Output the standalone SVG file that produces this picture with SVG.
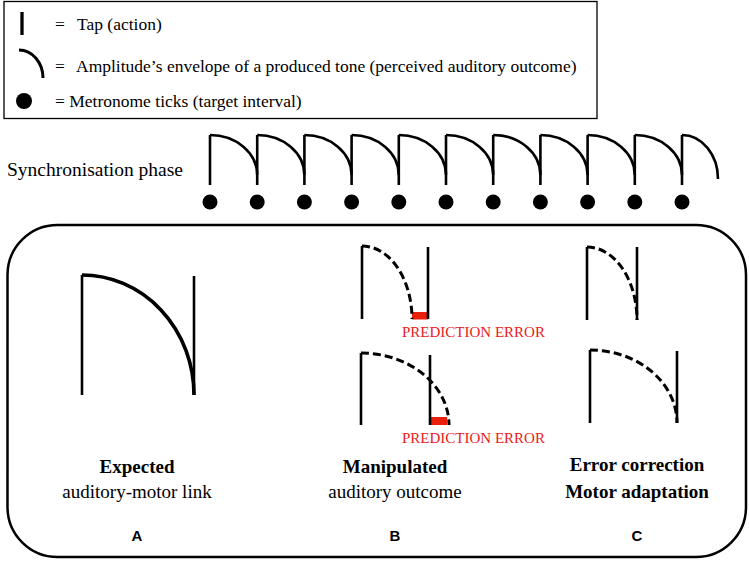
<svg xmlns="http://www.w3.org/2000/svg" width="749" height="561" viewBox="0 0 749 561">
<style>
.serif{font-family:"Liberation Serif","Times New Roman",serif;fill:#000}
.leg{font-size:17.5px}
.lbl{font-size:19px;text-anchor:middle}
.b{font-weight:bold}
.abc{font-family:"Liberation Sans",Arial,sans-serif;font-weight:bold;font-size:15px;text-anchor:middle}
.red{font-family:"Liberation Serif","Times New Roman",serif;font-size:15px;fill:#e8201a}
.ln{stroke:#000;stroke-width:2.6;fill:none}
.env{stroke:#000;stroke-width:2.6;fill:none}
.dash{stroke:#000;stroke-width:3;fill:none;stroke-dasharray:8 4}
.err{fill:#e8200c}
</style>
<rect width="749" height="561" fill="#fff"/>

<g id="legend">
<rect x="4" y="1.5" width="593" height="117" fill="none" stroke="#000" stroke-width="1.3"/>
<line x1="22" y1="12" x2="22" y2="35" stroke="#000" stroke-width="3.3"/>
<path d="M19 50 A24 28 0 0 1 43 78" stroke="#000" stroke-width="3" fill="none"/>
<circle cx="24" cy="101" r="8" fill="#000"/>
<text class="serif leg" x="55" y="30">=</text>
<text class="serif leg" x="77" y="30">Tap (action)</text>
<text class="serif leg" x="55" y="72">=</text>
<text class="serif leg" x="76" y="72">Amplitude’s envelope of a produced tone (perceived auditory outcome)</text>
<text class="serif leg" x="55" y="107">= Metronome ticks (target interval)</text>
</g>

<g id="sync">
<text class="serif" x="7" y="176" font-size="19.5">Synchronisation phase</text>
<g id="sync-taps" class="ln">
<line x1="210" y1="135" x2="210" y2="185"/>
<line x1="257.2" y1="135" x2="257.2" y2="185"/>
<line x1="304.4" y1="135" x2="304.4" y2="185"/>
<line x1="351.6" y1="135" x2="351.6" y2="185"/>
<line x1="398.8" y1="135" x2="398.8" y2="185"/>
<line x1="446" y1="135" x2="446" y2="185"/>
<line x1="493.2" y1="135" x2="493.2" y2="185"/>
<line x1="540.4" y1="135" x2="540.4" y2="185"/>
<line x1="587.6" y1="135" x2="587.6" y2="185"/>
<line x1="634.8" y1="135" x2="634.8" y2="185"/>
<line x1="682" y1="135" x2="682" y2="185"/>
</g>
<g id="sync-env" class="env">
<path d="M210 135 A47.2 40 0 0 1 257.2 175"/>
<path d="M257.2 135 A47.2 40 0 0 1 304.4 175"/>
<path d="M304.4 135 A47.2 40 0 0 1 351.6 175"/>
<path d="M351.6 135 A47.2 40 0 0 1 398.8 175"/>
<path d="M398.8 135 A47.2 40 0 0 1 446 175"/>
<path d="M446 135 A47.2 40 0 0 1 493.2 175"/>
<path d="M493.2 135 A47.2 40 0 0 1 540.4 175"/>
<path d="M540.4 135 A47.2 40 0 0 1 587.6 175"/>
<path d="M587.6 135 A47.2 40 0 0 1 634.8 175"/>
<path d="M634.8 135 A47.2 40 0 0 1 682 175"/>
<path d="M682 135 A36 44 0 0 1 718 179"/>
</g>
<g id="sync-ticks" fill="#000">
<circle cx="210" cy="202" r="7.5"/>
<circle cx="257.2" cy="202" r="7.5"/>
<circle cx="304.4" cy="202" r="7.5"/>
<circle cx="351.6" cy="202" r="7.5"/>
<circle cx="398.8" cy="202" r="7.5"/>
<circle cx="446" cy="202" r="7.5"/>
<circle cx="493.2" cy="202" r="7.5"/>
<circle cx="540.4" cy="202" r="7.5"/>
<circle cx="587.6" cy="202" r="7.5"/>
<circle cx="634.8" cy="202" r="7.5"/>
<circle cx="682" cy="202" r="7.5"/>
</g>
</g>

<g id="panel">
<rect x="7.5" y="225" width="738.5" height="332" rx="50" ry="50" fill="none" stroke="#000" stroke-width="2.5"/>
</g>

<g id="panelA">
<line class="ln" x1="82" y1="275" x2="82" y2="395"/>
<line class="ln" x1="194" y1="276" x2="194" y2="395"/>
<path d="M82 275 A112 120 0 0 1 194 395" stroke="#000" stroke-width="3.6" fill="none"/>
<text class="serif lbl b" x="137" y="473">Expected</text>
<text class="serif lbl" x="137" y="498">auditory-motor link</text>
<text class="abc" x="137" y="541">A</text>
</g>

<g id="panelB">
<rect class="err" x="412" y="312" width="16" height="7.5"/>
<line class="ln" x1="362" y1="246" x2="362" y2="319"/>
<line class="ln" x1="428" y1="247" x2="428" y2="319"/>
<path class="dash" d="M362 246 A50 73 0 0 1 412 319"/>
<text class="red" x="402" y="337">PREDICTION ERROR</text>
<rect class="err" x="430.5" y="417" width="16.5" height="8"/>
<line class="ln" x1="361" y1="353" x2="361" y2="425"/>
<line class="ln" x1="430" y1="355" x2="430" y2="425"/>
<path class="dash" d="M361 353 A88 72 0 0 1 449 425"/>
<text class="red" x="402" y="443">PREDICTION ERROR</text>
<text class="serif lbl b" x="395" y="473">Manipulated</text>
<text class="serif lbl" x="395" y="498">auditory outcome</text>
<text class="abc" x="395" y="541">B</text>
</g>

<g id="panelC">
<line class="ln" x1="587" y1="247" x2="587" y2="320"/>
<line class="ln" x1="637" y1="247" x2="637" y2="320"/>
<path class="dash" d="M587 247 A50 73 0 0 1 637 320"/>
<line class="ln" x1="590" y1="350" x2="590" y2="423"/>
<line class="ln" x1="677" y1="351" x2="677" y2="423"/>
<path class="dash" d="M590 350 A87 73 0 0 1 677 423"/>
<text class="serif lbl b" x="637" y="471">Error correction</text>
<text class="serif lbl b" x="637" y="498">Motor adaptation</text>
<text class="abc" x="637" y="541">C</text>
</g>
</svg>
